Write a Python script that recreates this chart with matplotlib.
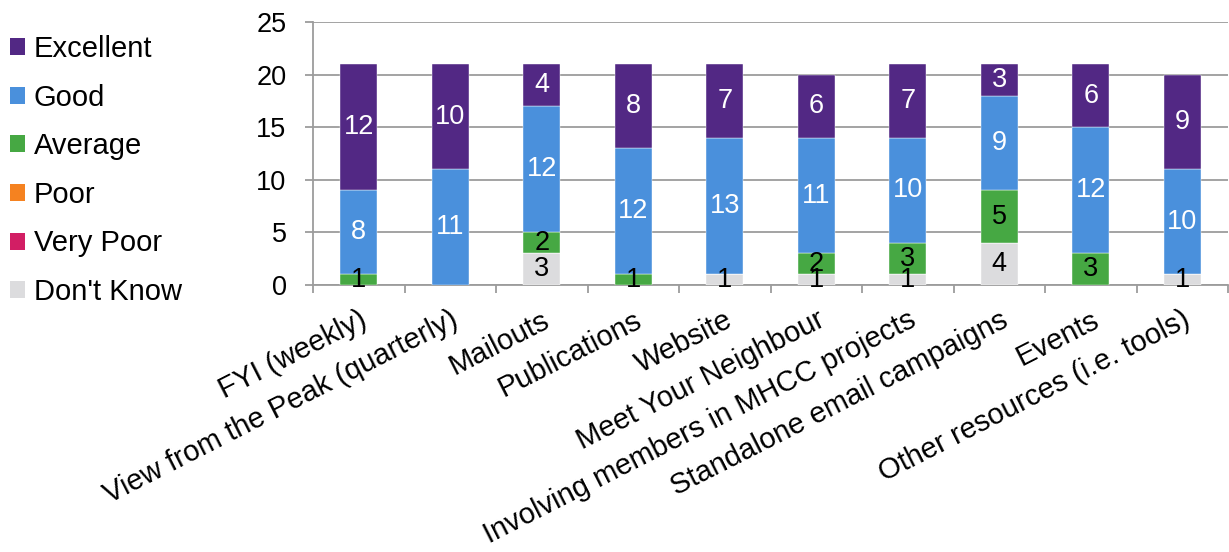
import matplotlib
matplotlib.use("Agg")
import matplotlib.pyplot as plt
import numpy as np
from matplotlib.patches import Patch

plt.rcParams['font.family'] = ['Liberation Sans', 'DejaVu Sans']

categories = [
    "FYI (weekly)",
    "View from the Peak (quarterly)",
    "Mailouts",
    "Publications",
    "Website",
    "Meet Your Neighbour",
    "Involving members in MHCC projects",
    "Standalone email campaigns",
    "Events",
    "Other resources (i.e. tools)",
]

# Ratings, stacked bottom to top
dont_know = [0, 0, 3, 0, 1, 1, 1, 4, 0, 1]
very_poor = [0, 0, 0, 0, 0, 0, 0, 0, 0, 0]
poor = [0, 0, 0, 0, 0, 0, 0, 0, 0, 0]
average = [1, 0, 2, 1, 0, 2, 3, 5, 3, 0]
good = [8, 11, 12, 12, 13, 11, 10, 9, 12, 10]
excellent = [12, 10, 4, 8, 7, 6, 7, 3, 6, 9]

series_names = ["Don't Know", "Very Poor", "Poor", "Average", "Good", "Excellent"]
series_values = [dont_know, very_poor, poor, average, good, excellent]
series_colors = ["#DCDCDE", "#D21E64", "#F58220", "#46A843", "#4A90DC", "#522884"]
label_colors = ["black", "white", "white", "black", "white", "white"]

y_ticks = [0, 5, 10, 15, 20, 25]

W, H = 1229, 552
fig = plt.figure(figsize=(W / 100, H / 100), dpi=100)
ax = fig.add_axes([313 / W, 267 / H, (1228 - 313) / W, 263 / H])

grid_color = "#9C9C9C"
x = np.arange(len(categories))
bottom = np.zeros(len(categories))
handles = []
for name, vals, col, lcol in zip(series_names, series_values, series_colors, label_colors):
    vals = np.array(vals, dtype=float)
    bars = ax.bar(x, vals, width=0.4, bottom=bottom, color=col, zorder=3,
                  edgecolor="white", linewidth=0.3)
    ax.bar_label(bars, labels=[str(int(v)) if v > 0 else "" for v in vals],
                 label_type="center", color=lcol, fontsize=19.5, zorder=4)
    bottom += vals
    handles.append(Patch(facecolor=col, label=name))

ax.set_xlim(-0.5, len(categories) - 0.5)
ax.set_ylim(0, 25)
ax.set_yticks(y_ticks)
ax.yaxis.grid(True, color=grid_color, linewidth=1.3, zorder=0)
ax.set_axisbelow(True)

for s in ["top", "right"]:
    ax.spines[s].set_visible(False)
for s in ["left", "bottom"]:
    ax.spines[s].set_color(grid_color)
    ax.spines[s].set_linewidth(1.3)

ax.tick_params(axis="y", labelsize=19.5, length=6, width=1.3, color=grid_color, pad=13)
ax.set_xticks(x)
ax.set_xticklabels(categories, rotation=27, ha="right", rotation_mode="anchor", fontsize=21)
ax.tick_params(axis="x", which="major", length=0, pad=15)
ax.set_xticks(np.arange(-0.5, len(categories), 1), minor=True)
ax.tick_params(axis="x", which="minor", length=6, width=1.3, color=grid_color)

fig.legend(handles=handles[::-1], loc="center left", bbox_to_anchor=(10 / W, 1 - 170.5 / H),
           frameon=False, fontsize=21, handlelength=0.52, handleheight=0.52,
           handletextpad=0.3, labelspacing=0.705, borderpad=0, borderaxespad=0)

fig.savefig("out.png", dpi=100)
